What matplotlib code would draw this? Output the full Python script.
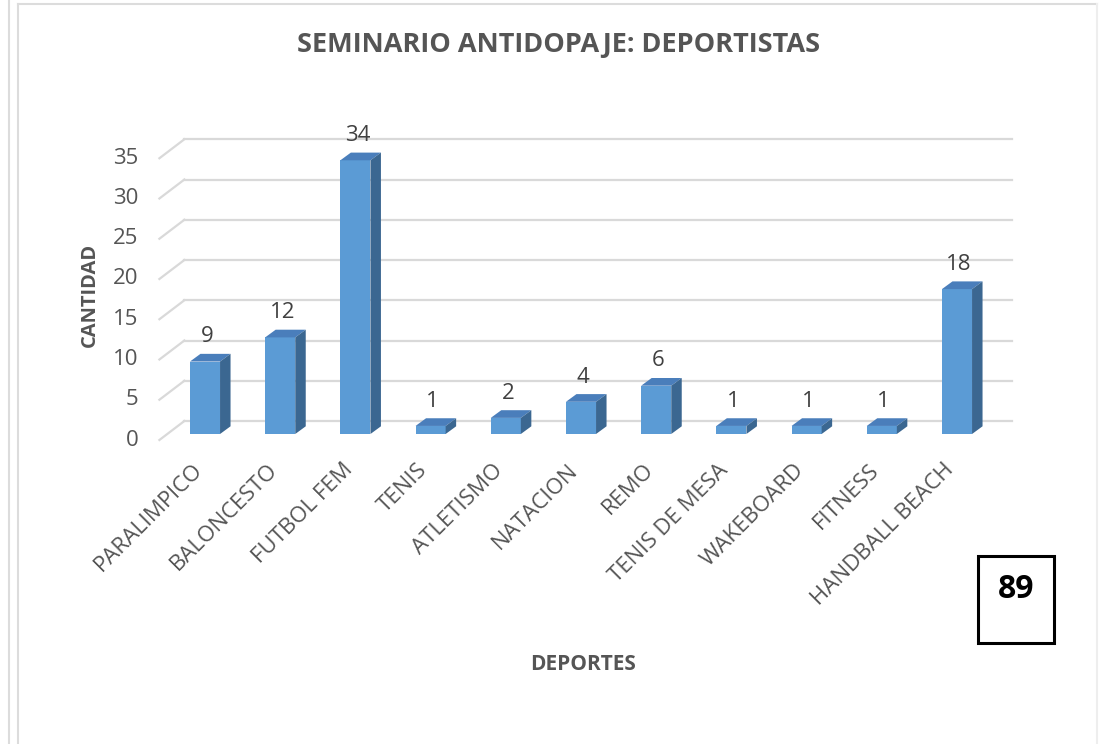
import matplotlib.pyplot as plt
from matplotlib.patches import Rectangle, Polygon
from matplotlib.lines import Line2D

# --- DATOS ---
deportes = ['PARALIMPICO', 'BALONCESTO', 'FUTBOL FEM', 'TENIS', 'ATLETISMO',
            'NATACION', 'REMO', 'TENIS DE MESA', 'WAKEBOARD', 'FITNESS',
            'HANDBALL BEACH']
cantidad = [9, 12, 34, 1, 2, 4, 6, 1, 1, 1, 18]
ticks_y = [0, 5, 10, 15, 20, 25, 30, 35]
total = 89

W, H = 1099, 744
FONT = 'Open Sans'
GRIS = '#555555'
FRENTE = '#5B9BD5'
TAPA = '#4A7EBB'
LADO = '#3B6791'

fig = plt.figure(figsize=(W / 100, H / 100), dpi=100)

# ejes = plano frontal de las barras
ax = fig.add_axes([167.4 / W, (H - 434) / H, 827.2 / W, 281.75 / H])
ax.set_xlim(-0.5, 10.5)
ax.set_ylim(0, 35)
ax.axis('off')

ux = 827.2 / 11      # px por unidad x
uy = 281.75 / 35     # px por unidad y

# desplazamientos de profundidad (pseudo 3D), en unidades de datos
back_dx, back_dy = 17 / ux, 13 / uy
front_dx, front_dy = -8 / ux, -6 / uy
bar_dx, bar_dy = 10.5 / ux, 7.7 / uy

# rejilla del fondo + diagonales del suelo
for v in ticks_y:
    ax.plot([-0.5 + back_dx, 10.5 + back_dx], [v + back_dy, v + back_dy],
            color='#D9D9D9', lw=1.6, clip_on=False, zorder=0)
    ax.plot([-0.5 + front_dx, -0.5 + back_dx], [v + front_dy, v + back_dy],
            color='#D9D9D9', lw=1.6, clip_on=False, zorder=0)
    ax.text(-0.5 + front_dx - 21 / ux, v + front_dy, str(v), ha='right', va='center',
            fontsize=16, color=GRIS, family=FONT, clip_on=False)

# barras
x = list(range(len(deportes)))
bw = 0.4
ax.bar(x, cantidad, width=bw, color=FRENTE, zorder=3, clip_on=False)
for xi, v in zip(x, cantidad):
    x0, x1 = xi - bw / 2, xi + bw / 2
    tapa = Polygon([(x0, v), (x1, v), (x1 + bar_dx, v + bar_dy), (x0 + bar_dx, v + bar_dy)],
                   closed=True, facecolor=TAPA, edgecolor='none', zorder=3, clip_on=False)
    lado = Polygon([(x1, 0), (x1 + bar_dx, bar_dy), (x1 + bar_dx, v + bar_dy), (x1, v)],
                   closed=True, facecolor=LADO, edgecolor='none', zorder=3, clip_on=False)
    ax.add_patch(tapa)
    ax.add_patch(lado)
    ax.text(xi + 2 / ux, v + bar_dy + 17 / uy, str(v), ha='center', va='center',
            fontsize=16, color='#404040', family=FONT, clip_on=False)

# etiquetas de categoria
for xi, nombre in zip(x, deportes):
    ax.text(xi - 6 / ux, -33 / uy, nombre, rotation=45, rotation_mode='anchor',
            ha='right', va='center', fontsize=16, color=GRIS, family=FONT, clip_on=False)

# titulos
fig.text(559 / W, 1 - 45 / H, 'SEMINARIO ANTIDOPAJE: DEPORTISTAS', ha='center', va='center',
         fontsize=19.5, fontweight='bold', color=GRIS, family=FONT)
fig.text(90 / W, 1 - 295 / H, 'CANTIDAD', rotation=90, ha='center', va='center',
         fontsize=14.5, fontweight='bold', color=GRIS, family=FONT)
fig.text(583 / W, 1 - 665 / H, 'DEPORTES', ha='center', va='center',
         fontsize=15, fontweight='bold', color=GRIS, family=FONT)

# recuadro con el total
fig.patches.append(Rectangle((978 / W, 1 - 643 / H), 76 / W, 87 / H, transform=fig.transFigure,
                             fill=False, edgecolor='black', lw=2.2))
fig.text(1016 / W, 1 - 590 / H, str(total), ha='center', va='center',
         fontsize=23, fontweight='bold', color='black', family=FONT)

# bordes del area del grafico
borde = '#DCDCDC'
fig.lines.append(Line2D([9 / W, 9 / W], [0, 1], transform=fig.transFigure, color=borde, lw=1.5))
fig.lines.append(Line2D([18 / W, 18 / W], [0, 1 - 3.5 / H], transform=fig.transFigure, color=borde, lw=1.5))
fig.lines.append(Line2D([18 / W, 1097 / W], [1 - 3.5 / H, 1 - 3.5 / H], transform=fig.transFigure, color=borde, lw=1.5))
fig.lines.append(Line2D([1097 / W, 1097 / W], [0, 1 - 3.5 / H], transform=fig.transFigure, color='#EEEEEE', lw=1.5))

fig.savefig('out.png', dpi=100)
